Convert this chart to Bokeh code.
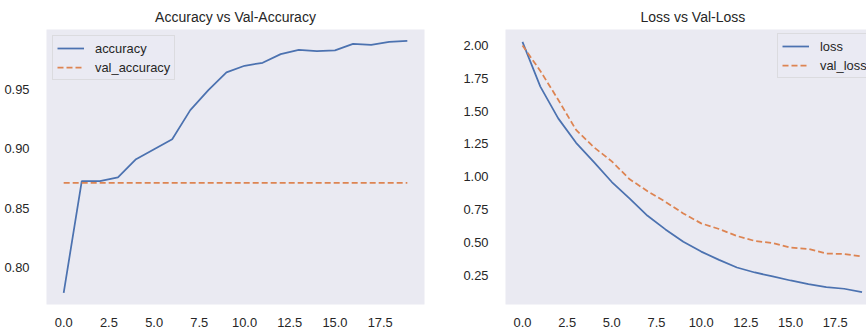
from bokeh.plotting import figure
from bokeh.layouts import row
from bokeh.models import FixedTicker, PrintfTickFormatter, Range1d, Legend, LegendItem, Title
from bokeh.embed import file_html
from bokeh.resources import INLINE

# training history (one value per epoch)
epochs = list(range(20))
accuracy = [0.779, 0.8729, 0.8729, 0.876, 0.8914, 0.8998, 0.9082, 0.9326, 0.9494, 0.9643,
            0.9699, 0.9724, 0.9797, 0.9833, 0.9822, 0.9828, 0.9883, 0.9875, 0.9900, 0.9909]
val_accuracy = [0.8714, 0.8714, 0.8714, 0.8714, 0.8714, 0.8714, 0.8714, 0.8714, 0.8714, 0.8714,
                0.8714, 0.8714, 0.8714, 0.8714, 0.8714, 0.8714, 0.8714, 0.8714, 0.8714, 0.8714]
loss = [2.027, 1.686, 1.444, 1.258, 1.111, 0.959, 0.833, 0.702, 0.598, 0.504,
        0.429, 0.366, 0.308, 0.270, 0.240, 0.209, 0.182, 0.159, 0.146, 0.121]
val_loss = [2.000, 1.805, 1.586, 1.356, 1.224, 1.116, 0.980, 0.889, 0.808, 0.720,
            0.644, 0.601, 0.548, 0.510, 0.495, 0.459, 0.449, 0.414, 0.411, 0.391]

x_ticks = [0.0, 2.5, 5.0, 7.5, 10.0, 12.5, 15.0, 17.5]
acc_ticks = [0.80, 0.85, 0.90, 0.95]
loss_ticks = [0.25, 0.50, 0.75, 1.00, 1.25, 1.50, 1.75, 2.00]

FONT = "Liberation Sans"
TEXT = "#262626"
BG = "#EAEAF2"
BLUE = "#4C72B0"
ORANGE = "#DD8452"
LW = 1.75
DASH = "6 3"


def style(p, yticks):
    p.background_fill_color = BG
    p.border_fill_color = "white"
    p.outline_line_color = None
    p.xgrid.grid_line_color = None
    p.ygrid.grid_line_color = None
    p.xaxis.ticker = FixedTicker(ticks=x_ticks)
    p.xaxis.formatter = PrintfTickFormatter(format="%.1f")
    p.yaxis.ticker = FixedTicker(ticks=yticks)
    p.yaxis.formatter = PrintfTickFormatter(format="%.2f")
    for ax in (p.xaxis[0], p.yaxis[0]):
        ax.axis_line_color = None
        ax.major_tick_line_color = None
        ax.minor_tick_line_color = None
        ax.major_label_text_font = FONT
        ax.major_label_text_font_size = "12.9px"
        ax.major_label_text_color = TEXT
    p.xaxis.major_label_standoff = 7
    p.yaxis.major_label_standoff = 11


def make_legend(items, location):
    lg = Legend(items=items, location=location)
    lg.label_text_font = FONT
    lg.label_text_font_size = "12.9px"
    lg.label_text_color = TEXT
    lg.background_fill_color = BG
    lg.background_fill_alpha = 0.8
    lg.border_line_color = "#CCCCCC"
    lg.border_line_width = 1
    lg.padding = 4
    lg.margin = 6
    lg.spacing = 3
    lg.glyph_width = 27
    lg.glyph_height = 16
    lg.label_height = 16
    lg.label_standoff = 11
    return lg


# accuracy panel
p1 = figure(width=460, height=329, output_backend="svg", toolbar_location=None,
            x_range=Range1d(-0.95, 19.95), y_range=Range1d(0.7692, 1.0004),
            min_border_left=46, min_border_right=36, min_border_top=29, min_border_bottom=25)
p1.title = Title(text="Accuracy vs Val-Accuracy", align="center", text_font=FONT,
                 text_font_size="14px", text_font_style="normal", text_color=TEXT)
style(p1, acc_ticks)
r_acc = p1.line(epochs, accuracy, line_color=BLUE, line_width=LW)
r_vacc = p1.line(epochs, val_accuracy, line_color=ORANGE, line_width=LW, line_dash=DASH)
p1.add_layout(make_legend([LegendItem(label="accuracy", renderers=[r_acc]),
                           LegendItem(label="val_accuracy", renderers=[r_vacc])], "top_left"))

# loss panel
p2 = figure(width=406, height=329, output_backend="svg", toolbar_location=None,
            x_range=Range1d(-0.95, 19.25), y_range=Range1d(0.026, 2.121),
            min_border_left=41, min_border_right=0, min_border_top=29, min_border_bottom=25)
p2.title = Title(text="Loss vs Val-Loss", align="left", offset=135, text_font=FONT,
                 text_font_size="14px", text_font_style="normal", text_color=TEXT)
style(p2, loss_ticks)
r_loss = p2.line(epochs, loss, line_color=BLUE, line_width=LW)
r_vloss = p2.line(epochs, val_loss, line_color=ORANGE, line_width=LW, line_dash=DASH)
p2.add_layout(make_legend([LegendItem(label="loss", renderers=[r_loss]),
                           LegendItem(label="val_loss", renderers=[r_vloss])], (272, 226)))

layout = row(p1, p2)
open("out.html", "w").write(file_html(layout, INLINE))
